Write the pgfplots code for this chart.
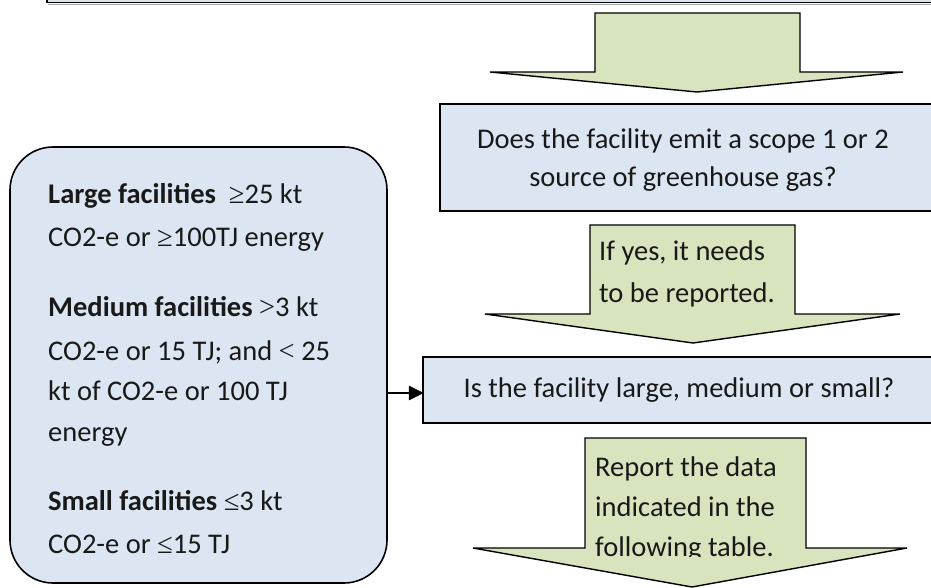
\documentclass[border=0pt]{standalone}
\usepackage{pgfplots}
\pgfplotsset{compat=1.18}
\usepackage{fontspec}
\setmainfont{Carlito}
\newfontfamily\symfont{Liberation Serif}
\definecolor{boxblue}{HTML}{DCE6F2}
\definecolor{arrgreen}{HTML}{D7E4BD}
\newcommand{\s}[1]{{\symfont #1}}
\newcommand{\F}{\fontsize{28.5}{32}\selectfont}
\tikzset{t/.style={font=\F, inner sep=0pt, text=black!90}}
\begin{document}
\begin{tikzpicture}
\begin{axis}[
  width=931pt, height=588pt, scale only axis,
  xmin=0, xmax=931, ymin=0, ymax=588, y dir=reverse,
  hide axis, clip=true,
]
% top box (only its bottom edge visible)
\addplot[draw=black, line width=1.6pt, fill=boxblue] coordinates {(47,-20) (47,2.5) (960,2.5) (960,-20)} -- cycle;
\addplot[draw=black!35, line width=0.8pt] coordinates {(48,4.5) (960,4.5)};
% arrow 1
\addplot[draw=black, line width=1.4pt, fill=arrgreen] coordinates {(595,13) (800,13) (800,72) (903,72) (697,92) (490,72) (595,72)} -- cycle;
% box 2
\addplot[draw=black, line width=1.6pt, fill=boxblue] coordinates {(440,104) (960,104) (960,211) (440,211)} -- cycle;
% arrow 2
\addplot[draw=black, line width=1.4pt, fill=arrgreen] coordinates {(590,225) (795,225) (795,314) (900,314) (693,343) (485,314) (590,314)} -- cycle;
% box 3
\addplot[draw=black, line width=1.6pt, fill=boxblue] coordinates {(423,357) (960,357) (960,423) (423,423)} -- cycle;
% arrow 3
\addplot[draw=black, line width=1.4pt, fill=arrgreen] coordinates {(585,438) (806,438) (806,548) (907,548) (692,587) (473,548) (585,548)} -- cycle;
% left rounded box
\addplot[draw=black, line width=1.6pt, fill=boxblue, rounded corners=43pt] coordinates {(10,147) (387,147) (387,583) (10,583)} -- cycle;
% connector
\addplot[draw=black, line width=1.3pt] coordinates {(387,393) (410,393)};
\addplot[draw=black, fill=black, line width=0.5pt] coordinates {(409,386) (423,393) (409,400)} -- cycle;

% texts
\node[t, anchor=base] at (axis cs:683,148) {Does the facility emit a scope 1 or 2};
\node[t, anchor=base] at (axis cs:683,186) {source of greenhouse gas?};
\node[t, anchor=base west] at (axis cs:599,260) {If yes, it needs};
\node[t, anchor=base west] at (axis cs:599,302) {to be reported.};
\node[t, anchor=base] at (axis cs:679,397) {Is the facility large, medium or small?};
\node[t, anchor=base west] at (axis cs:595,476) {Report the data};
\node[t, anchor=base west] at (axis cs:595,516) {indicated in the};
\begin{scope}
\clip (axis cs:560,520) rectangle (axis cs:820,556);
\node[t, anchor=base west] at (axis cs:595,556) {following table.};
\end{scope}

\node[t, anchor=base west] at (axis cs:48,203) {\textbf{Large facilities} \ \s{≥}25 kt};
\node[t, anchor=base west] at (axis cs:48,246) {CO2-e or \s{≥}100TJ energy};
\node[t, anchor=base west] at (axis cs:48,316) {\textbf{Medium facilities} \s{>}3 kt};
\node[t, anchor=base west] at (axis cs:48,360) {CO2-e or 15 TJ; and \s{<} 25};
\node[t, anchor=base west] at (axis cs:48,400) {kt of CO2-e or 100 TJ};
\node[t, anchor=base west] at (axis cs:48,441) {energy};
\node[t, anchor=base west] at (axis cs:48,510) {\textbf{Small facilities} \s{≤}3 kt};
\node[t, anchor=base west] at (axis cs:48,553) {CO2-e or \s{≤}15 TJ};
\end{axis}
\pgfresetboundingbox
\path (0,0) rectangle (931pt,588pt);
\end{tikzpicture}
\end{document}
